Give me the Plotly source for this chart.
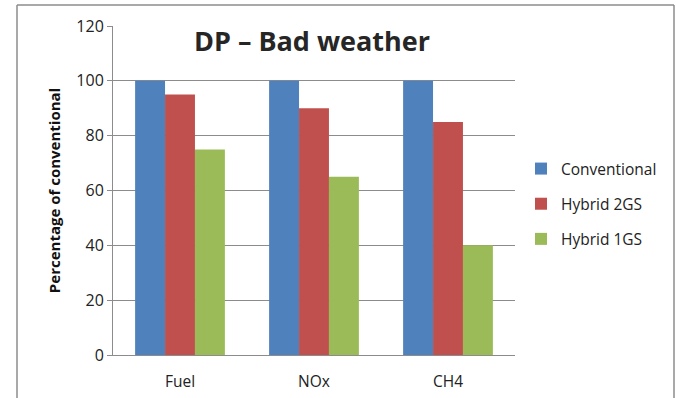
import plotly.graph_objects as go

categories = ["Fuel", "NOx", "CH4"]
conventional = [100, 100, 100]
hybrid_2gs = [95, 90, 85]
hybrid_1gs = [75, 65, 40]
y_ticks = [0, 20, 40, 60, 80, 100, 120]

series = [
    ("Conventional", conventional, "#4F81BD"),
    ("Hybrid 2GS", hybrid_2gs, "#C0504D"),
    ("Hybrid 1GS", hybrid_1gs, "#9BBB59"),
]

FONT = "'Open Sans', 'Noto Sans', sans-serif"

fig = go.Figure()
for i, (name, vals, color) in enumerate(series):
    fig.add_trace(go.Bar(
        name=name, x=categories, y=vals,
        marker=dict(color=color, line=dict(width=0)),
        legendgroup=f"g{i}",
    ))

W, H = 676, 398
L, R, T, B = 113, 161, 26, 43
pw, ph = W - L - R, H - T - B

def px_x(p):
    return (p - L) / pw

def px_y(p):
    return (H - B - p) / ph

fig.update_layout(
    width=W, height=H,
    margin=dict(l=L, r=R, t=T, b=B, autoexpand=False),
    paper_bgcolor="white", plot_bgcolor="white",
    barmode="group", bargap=0.33, bargroupgap=0,
    font=dict(family=FONT, size=14, color="#222222"),
    title=dict(
        text="<b>DP \u2013 Bad weather</b>",
        x=px_x(312), xref="paper", xanchor="center",
        y=1 - 42 / H, yref="container", yanchor="middle",
        font=dict(family=FONT, size=27, color="#262626"),
    ),
    xaxis=dict(
        showgrid=False, showline=True, linecolor="#8C8C8C", linewidth=1,
        ticks="", tickfont=dict(size=15.5, color="#222222"),
        ticklabelstandoff=12,
    ),
    yaxis=dict(
        range=[0, 120], tickvals=y_ticks,
        showgrid=True, gridcolor="#8C8C8C", gridwidth=1,
        showline=True, linecolor="#8C8C8C", linewidth=1,
        ticks="outside", ticklen=5, tickcolor="#8C8C8C",
        tickfont=dict(size=16, color="#222222"),
        zeroline=False,
        title=dict(text="<b>Percentage of conventional</b>",
                   font=dict(size=15, color="#111111"), standoff=12),
    ),
    legend=dict(
        x=px_x(521), xref="paper", xanchor="left",
        y=px_y(204), yref="paper", yanchor="middle",
        font=dict(size=15.5, color="#222222"),
        tracegroupgap=12, bgcolor="rgba(0,0,0,0)",
    ),
    showlegend=True,
)

# outer chart frame
border = dict(color="#8C8C8C", width=1.5)
fig.add_shape(type="line", xref="paper", yref="paper",
              x0=px_x(17), x1=px_x(674), y0=px_y(5), y1=px_y(5), line=border)
fig.add_shape(type="line", xref="paper", yref="paper",
              x0=px_x(17), x1=px_x(17), y0=px_y(5), y1=px_y(400), line=border)
fig.add_shape(type="line", xref="paper", yref="paper",
              x0=px_x(674), x1=px_x(674), y0=px_y(5), y1=px_y(400), line=border)

fig.write_html("out.html")
